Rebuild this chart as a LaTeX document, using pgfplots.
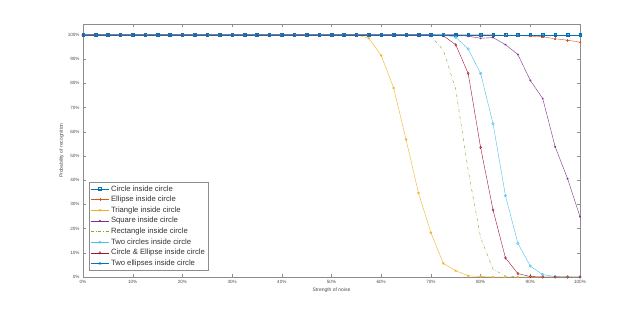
\documentclass[border=0pt]{standalone}
\usepackage{pgfplots}
\usepackage{pgfplotstable}
\pgfplotsset{compat=1.18}
\usepackage{fontspec}
\setmainfont{Liberation Sans}
\definecolor{mblue}{rgb}{0,0.447,0.741}
\definecolor{morange}{rgb}{0.850,0.325,0.098}
\definecolor{myellow}{rgb}{0.929,0.694,0.125}
\definecolor{mpurple}{rgb}{0.494,0.184,0.556}
\definecolor{mgreen}{rgb}{0.466,0.674,0.188}
\definecolor{mcyan}{rgb}{0.301,0.745,0.933}
\definecolor{mred}{rgb}{0.635,0.078,0.184}
\pgfplotstableread{
x circ ell tri sq rect twoc ce twoe
0 100 100 100 100 100 100 100 100
2.5 100 100 100 100 100 100 100 100
5 100 100 100 100 100 100 100 100
7.5 100 100 100 100 100 100 100 100
10 100 100 100 100 100 100 100 100
12.5 100 100 100 100 100 100 100 100
15 100 100 100 100 100 100 100 100
17.5 100 100 100 100 100 100 100 100
20 100 100 100 100 100 100 100 100
22.5 100 100 100 100 100 100 100 100
25 100 100 100 100 100 100 100 100
27.5 100 100 100 100 100 100 100 100
30 100 100 100 100 100 100 100 100
32.5 100 100 100 100 100 100 100 100
35 100 100 100 100 100 100 100 100
37.5 100 100 100 100 100 100 100 100
40 100 100 100 100 100 100 100 100
42.5 100 100 100 100 100 100 100 100
45 100 100 100 100 100 100 100 100
47.5 100 100 100 100 100 100 100 100
50 100 100 100 100 100 100 100 100
52.5 100 100 100 100 100 100 100 100
55 100 100 100 100 100 100 100 100
57.5 100 100 98.6 100 100 100 100 100
60 100 100 91.5 100 100 100 100 100
62.5 100 100 78.1 100 100 100 100 100
65 100 100 56.8 100 100 100 100 100
67.5 100 100 34.7 100 100 100 100 100
70 100 100 18.3 100 99.5 100 100 100
72.5 100 100 5.6 100 93.7 100 99.7 100
75 100 100 2.6 100 77.5 99.0 95.9 100
77.5 100 100 0.5 99.5 44.0 94.2 84.1 100
80 100 100 0.2 98.6 16.3 84.1 53.5 100
82.5 100 100 0 98.9 3.2 63.3 27.7 100
85 100 99.8 0 96.0 0.4 33.6 7.9 100
87.5 100 99.7 0 91.9 0 13.9 1.4 100
90 100 99.5 0 81.2 0 4.5 0.2 100
92.5 100 99.2 0 73.7 0 1.0 0 100
95 100 98.4 0 53.8 0 0.2 0 100
97.5 100 97.8 0 40.6 0 0 0 100
100 100 97.0 0 24.9 0 0 0 100
}\data
\begin{document}
\begin{tikzpicture}
\path[use as bounding box] (-83bp,-35bp) rectangle (557bp,277bp);
\begin{axis}[
  scale only axis,
  width=497bp, height=253bp,
  xmin=0, xmax=100, ymin=0, ymax=104.5,
  xtick={0,10,...,100}, ytick={0,10,...,100},
  xticklabel={\pgfmathprintnumber{\tick}\%},
  yticklabel={\pgfmathprintnumber{\tick}\%},
  /pgf/number format/assume math mode=true,
  tick align=inside,
  major tick length=3bp,
  axis line style={draw=black!45, line width=0.4pt},
  tick style={draw=black!45, line width=0.4pt},
  ticklabel style={font=\fontsize{4.6}{5}\selectfont, text=black!70},
  xlabel={Strength of noise},
  ylabel={Probability of recognition},
  label style={font=\fontsize{5}{6}\selectfont, text=black!70},
  xlabel style={yshift=3bp},
  ylabel style={yshift=-3bp},
  legend style={at={(0.012,0.025)}, anchor=south west, draw=black!45, line width=0.4pt,
    font=\fontsize{7.7}{9}\selectfont, text=black!80, row sep=-0.4pt, inner sep=1.5pt},
  legend cell align=left,
  legend image code/.code={\draw[mark repeat=2,mark phase=2,#1] plot coordinates {(0bp,0bp) (9bp,0bp) (18bp,0bp)};},
  every axis plot/.append style={line width=0.4pt, mark size=1.3pt, mark options={solid}},
]
\addplot[color=mblue, mark=square] table[x=x,y=circ] {\data};
\addlegendentry{Circle inside circle}
\addplot[color=morange, mark=+] table[x=x,y=ell] {\data};
\addlegendentry{Ellipse inside circle}
\addplot[color=myellow, mark=asterisk] table[x=x,y=tri] {\data};
\addlegendentry{Triangle inside circle}
\addplot[color=mpurple, mark=asterisk, mark size=1pt] table[x=x,y=sq] {\data};
\addlegendentry{Square inside circle}
\addplot[color=mgreen, dash dot, no markers] table[x=x,y=rect] {\data};
\addlegendentry{Rectangle inside circle}
\addplot[color=mcyan, mark=o] table[x=x,y=twoc] {\data};
\addlegendentry{Two circles inside circle}
\addplot[color=mred, mark=diamond] table[x=x,y=ce] {\data};
\addlegendentry{Circle \& Ellipse inside circle}
\addplot[color=mblue, mark=triangle] table[x=x,y=twoe] {\data};
\addlegendentry{Two ellipses inside circle}
\end{axis}
\end{tikzpicture}
\end{document}
